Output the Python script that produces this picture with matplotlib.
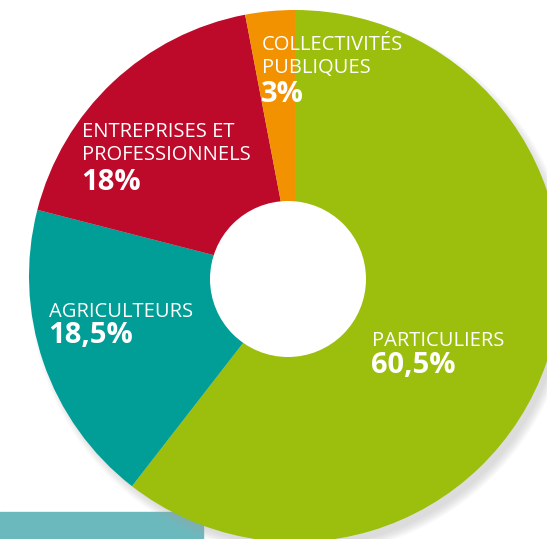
import matplotlib.pyplot as plt
from matplotlib.patches import Circle, Rectangle

# Répartition (%)
labels = ["PARTICULIERS", "AGRICULTEURS", "ENTREPRISES ET\nPROFESSIONNELS", "COLLECTIVITÉS\nPUBLIQUES"]
values = [60.5, 18.5, 18.0, 3.0]
pct_text = ["60,5%", "18,5%", "18%", "3%"]
colors = ["#9bbf0c", "#009e96", "#bd0a2b", "#f39200"]

W, H = 547, 539
font = "Open Sans"

fig = plt.figure(figsize=(W / 100, H / 100), dpi=100)
ax = fig.add_axes([0, 0, 1, 1])
ax.set_xlim(0, W)
ax.set_ylim(0, H)
ax.set_aspect("equal")
ax.axis("off")


def Y(y):
    # pixel row (from top) -> data y
    return H - y


cx, cy, r = 295, 276, 266

# bandeau en bas à gauche
ax.add_patch(Rectangle((0, Y(539)), 203, 27, color="#6cb9bd", zorder=0))

# ombre douce, décalée vers le bas à droite
for i in range(10):
    ax.add_patch(Circle((cx + 6, Y(cy + 8)), r + 6 - i, color="#a8a8a8",
                        alpha=0.045, lw=0, zorder=1))

ax.pie(values, colors=colors, startangle=90, counterclock=False,
       center=(cx, Y(cy)), radius=r, wedgeprops={"linewidth": 0, "zorder": 2})
ax.set_xlim(0, W)
ax.set_ylim(0, H)

# trou central (légèrement décalé)
ax.add_patch(Circle((288, Y(279)), 78, color="white", lw=0, zorder=3))

# étiquettes : (x, baseline du titre, baseline du %)
label_pos = [(372, 346, 373), (49, 317, 343), (82, 137, 190), (262, 50, 102)]
for lab, pct, (x, yl, yp) in zip(labels, pct_text, label_pos):
    lines = lab.split("\n")
    for k, line in enumerate(lines):
        ax.text(x, Y(yl + k * 23), line, color="white", fontsize=14.5,
                fontname=font, ha="left", va="baseline", zorder=4)
    ax.text(x - 1, Y(yp), pct, color="white", fontsize=21, fontweight="bold",
            fontname=font, ha="left", va="baseline", zorder=4)

fig.savefig("out.png", dpi=100)
